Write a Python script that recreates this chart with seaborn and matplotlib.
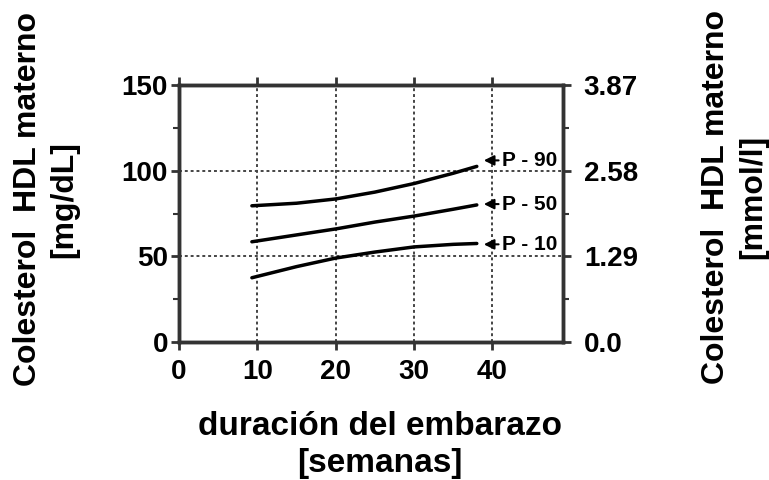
import numpy as np
import pandas as pd
import matplotlib
matplotlib.use("Agg")
import matplotlib.pyplot as plt
from matplotlib.ticker import MultipleLocator, FixedLocator
import seaborn as sns

# semanas de embarazo y percentiles de colesterol HDL (mg/dL)
semanas = [9.3, 15, 20, 25, 30, 35, 38]
p10 = [37.5, 44, 49, 52.5, 55.5, 57, 57.5]
p50 = [58.5, 62.5, 66, 70, 73.5, 77.5, 80]
p90 = [79.5, 81, 83.5, 87.5, 92.5, 98.5, 102.5]
etiquetas = ["P - 10", "P - 50", "P - 90"]

# posicion de la flecha / etiqueta para cada percentil
punta_x = 38.9
punta_y = [57, 80.5, 106]

mmol_ticks = [0, 1.29, 2.58, 3.87]
mmol_labels = ["0.0", "1.29", "2.58", "3.87"]

df = pd.DataFrame({
    "semanas": semanas * 3,
    "hdl": p10 + p50 + p90,
    "percentil": [etiquetas[0]] * len(semanas) + [etiquetas[1]] * len(semanas) + [etiquetas[2]] * len(semanas),
})

sns.set_style("ticks")
plt.rcParams["font.family"] = ["Liberation Sans", "DejaVu Sans"]
plt.rcParams["font.weight"] = "bold"
plt.rcParams["text.color"] = "black"
plt.rcParams["xtick.labelcolor"] = "black"
plt.rcParams["ytick.labelcolor"] = "black"

fig = plt.figure(figsize=(7.69, 4.80), dpi=100)
ax = fig.add_axes([0.2328, 0.2875, 0.4993, 0.5354])

sns.lineplot(data=df, x="semanas", y="hdl", units="percentil", estimator=None,
             color="black", linewidth=2.5, ax=ax, legend=False)

ax.set_xlim(0, 49)
ax.set_ylim(0, 150)
ax.set_xticks([0, 10, 20, 30, 40])
ax.set_yticks([0, 50, 100, 150])
ax.yaxis.set_minor_locator(MultipleLocator(25))
ax.set_xlabel("")
ax.set_ylabel("")

for v in [10, 20, 30, 40]:
    ax.axvline(v, color="#444444", linestyle=(0, (1.5, 1.5)), linewidth=1.4, zorder=0)
for v in [50, 100]:
    ax.axhline(v, color="#444444", linestyle=(0, (1.5, 1.5)), linewidth=1.4, zorder=0)

for s in ax.spines.values():
    s.set_linewidth(2.5)
    s.set_color("#333333")

ax.tick_params(axis="both", which="major", direction="out", length=6, width=2,
               color="#333333", labelsize=20, labelcolor="black")
ax.tick_params(axis="x", which="major", pad=6)
ax.tick_params(axis="y", which="major", pad=2)
ax.tick_params(axis="y", which="minor", direction="out", length=4, width=1.5, color="#333333")
ax.tick_params(axis="x", top=True, labeltop=False)

ax2 = ax.twinx()
ax2.set_ylim(0, 3.87)
ax2.yaxis.set_major_locator(FixedLocator(mmol_ticks))
ax2.set_yticklabels(mmol_labels)
ax2.yaxis.set_minor_locator(FixedLocator([0.645, 1.935, 3.225]))
ax2.tick_params(axis="y", which="major", direction="out", length=6, width=2,
                color="#333333", labelsize=20, labelcolor="black", pad=9)
ax2.tick_params(axis="y", which="minor", direction="out", length=4, width=1.5, color="#333333")
for s in ax2.spines.values():
    s.set_linewidth(2.5)
    s.set_color("#333333")

for lab, py in zip(etiquetas, punta_y):
    ax.annotate(lab, xy=(punta_x, py), xytext=(41.2, py), fontsize=15, fontweight="bold",
                va="center", ha="left", color="black",
                arrowprops=dict(arrowstyle="-|>", color="black", lw=1.5,
                                mutation_scale=15, shrinkA=0, shrinkB=0))

fig.text(0.494, 0.073, "duración del embarazo\n[semanas]", ha="center", va="center",
         fontsize=24, fontweight="bold", linespacing=1.25)
fig.text(0.060, 0.585, "Colesterol  HDL materno\n[mg/dL]", ha="center", va="center",
         rotation=90, fontsize=23, fontweight="bold", linespacing=1.3)
fig.text(0.955, 0.59, "Colesterol  HDL materno\n[mmol/l]", ha="center", va="center",
         rotation=90, fontsize=23, fontweight="bold", linespacing=1.3)

fig.savefig("out.png", dpi=100)
